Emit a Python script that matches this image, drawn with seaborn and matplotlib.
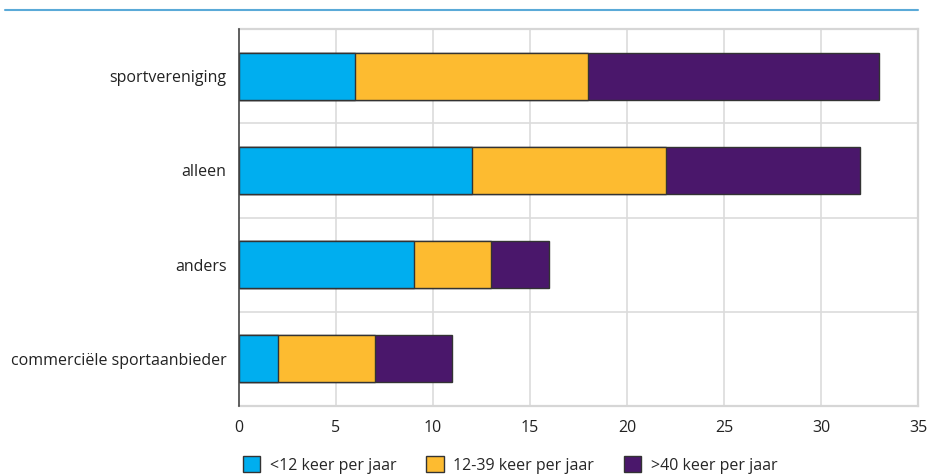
import matplotlib
matplotlib.use("Agg")
import matplotlib.pyplot as plt
import seaborn as sns
import numpy as np
import pandas as pd
from matplotlib.patches import Patch
from matplotlib.lines import Line2D

categories = ["sportvereniging", "alleen", "anders", "commerciële sportaanbieder"]
series_names = ["<12 keer per jaar", "12-39 keer per jaar", ">40 keer per jaar"]
lt12 = [6, 12, 9, 2]
s12_39 = [12, 10, 4, 5]
gt40 = [15, 10, 3, 4]
colors = ["#00aeef", "#fdbb30", "#4a176b"]
x_ticks = [0, 5, 10, 15, 20, 25, 30, 35]

sns.set_theme(style="white")
plt.rcParams["font.family"] = ["Open Sans", "DejaVu Sans"]

fig = plt.figure(figsize=(9.29, 4.75), dpi=100)
ax = fig.add_axes([239/929, 1-406/475, (918-239)/929, (406-29)/475])

vals = np.array([lt12, s12_39, gt40], dtype=float)
cum = np.cumsum(vals, axis=0)
for i in [2, 1, 0]:
    df = pd.DataFrame({"cat": categories, "val": cum[i]})
    sns.barplot(data=df, x="val", y="cat", color=colors[i], saturation=1,
                width=0.5, edgecolor="#333333", linewidth=1, ax=ax, zorder=3)

ax.set_xlim(0, 35)
ax.set_ylim(3.5, -0.5)
ax.set_xticks(x_ticks)
ax.set_xticklabels([str(t) for t in x_ticks])
ax.set_xlabel("")
ax.set_ylabel("")
ax.tick_params(axis="both", length=0, labelsize=11.5, colors="#222222")
ax.tick_params(axis="y", pad=9)
ax.tick_params(axis="x", pad=10)

for x in x_ticks[1:-1]:
    ax.axvline(x, color="#dcdcdc", lw=1.2, zorder=0)
for y in [0.5, 1.5, 2.5]:
    ax.axhline(y, color="#dcdcdc", lw=1.2, zorder=0)
for s in ["top", "right", "bottom"]:
    ax.spines[s].set_color("#d6d6d6")
    ax.spines[s].set_linewidth(1.6)
ax.spines["left"].set_color("#444444")
ax.spines["left"].set_linewidth(1.2)
ax.spines["left"].set_zorder(5)

# top decorative line
fig.add_artist(Line2D([5/929, 918/929], [1-10/475, 1-10/475], color="#5aaad8", lw=1.5))

handles = [Patch(facecolor=c, edgecolor="#333333", linewidth=1) for c in colors]
fig.legend(handles, series_names, loc="center", bbox_to_anchor=(510/929, 1-465/475),
           ncol=3, frameon=False, fontsize=11.5, handlelength=1.1, handleheight=1.1,
           columnspacing=1.85, handletextpad=0.6, borderaxespad=0)

fig.savefig("out.png", dpi=100)
